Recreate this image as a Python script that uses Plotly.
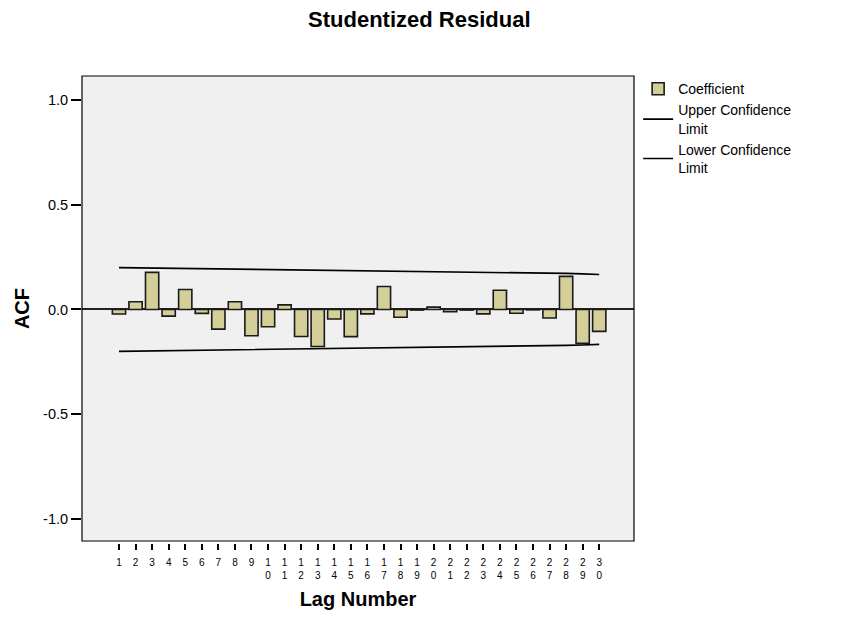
import plotly.graph_objects as go

lags = list(range(1, 31))
acf = [-0.022, 0.037, 0.177, -0.032, 0.095, -0.019, -0.094, 0.037, -0.126, -0.083,
       0.022, -0.129, -0.177, -0.046, -0.130, -0.021, 0.110, -0.037, -0.003, 0.011,
       -0.011, -0.003, -0.021, 0.092, -0.018, -0.002, -0.041, 0.158, -0.162, -0.105]
upper = [0.200, 0.199, 0.199, 0.198, 0.197, 0.196, 0.195, 0.195, 0.194, 0.193,
         0.192, 0.191, 0.190, 0.189, 0.188, 0.187, 0.186, 0.185, 0.184, 0.183,
         0.182, 0.181, 0.180, 0.179, 0.177, 0.176, 0.174, 0.172, 0.170, 0.167]
lower = [-v for v in upper]
tick_labels = ["<br>".join(list(str(k))) for k in lags]
y_ticks = [1.0, 0.5, 0.0, -0.5, -1.0]
y_tick_labels = ["1.0", "0.5", "0.0", "-0.5", "-1.0"]

font = "Liberation Sans, Arial, sans-serif"

fig = go.Figure()
fig.add_trace(go.Bar(
    x=lags, y=acf, name="Coefficient", width=0.8,
    marker=dict(color="#D4CF99", line=dict(color="#1a1a1a", width=1.6)),
))
fig.add_trace(go.Scatter(
    x=lags, y=upper, mode="lines", name="Upper Confidence<br>Limit",
    line=dict(color="black", width=1.7),
))
fig.add_trace(go.Scatter(
    x=lags, y=lower, mode="lines", name="Lower Confidence<br>Limit",
    line=dict(color="black", width=1.7),
))

fig.update_layout(
    width=836, height=610,
    margin=dict(l=74, r=210, t=68, b=75),
    paper_bgcolor="white",
    plot_bgcolor="#F0F0F0",
    font=dict(family=font, color="black", size=14),
    title=dict(text="<b>Studentized Residual</b>", x=0.492, xanchor="center",
               y=1 - 11 / 610, yanchor="middle", font=dict(size=22)),
    showlegend=True,
    legend=dict(x=1.0075, xanchor="left", y=1.006, yanchor="top",
                font=dict(size=14), bgcolor="rgba(0,0,0,0)"),
    shapes=[dict(type="rect", xref="x domain", yref="y domain",
                 x0=0, x1=1, y0=0, y1=1, line=dict(color="black", width=1.2),
                 layer="above")],
)
fig.update_xaxes(
    range=[-1.234, 32.1], tickmode="array", tickvals=lags, ticktext=tick_labels,
    anchor="free", position=0, automargin=False,
    ticks="outside", ticklen=6, tickwidth=2, tickcolor="black",
    tickfont=dict(size=10), ticklabelstandoff=4,
    showgrid=False, zeroline=False, showline=False,
    title=dict(text="<b>Lag Number</b>", font=dict(size=20), standoff=11),
)
fig.update_yaxes(
    range=[-1.107, 1.116], domain=[2 / 467, 1], automargin=False,
    tickmode="array", tickvals=y_ticks, ticktext=y_tick_labels,
    ticks="outside", ticklen=10, tickwidth=1.5, tickcolor="black",
    tickfont=dict(size=14.5), showgrid=False,
    zeroline=True, zerolinecolor="#222222", zerolinewidth=1.5,
    showline=False,
    title=dict(text="<b>ACF</b>", font=dict(size=20), standoff=8),
)

fig.write_html("out.html")
